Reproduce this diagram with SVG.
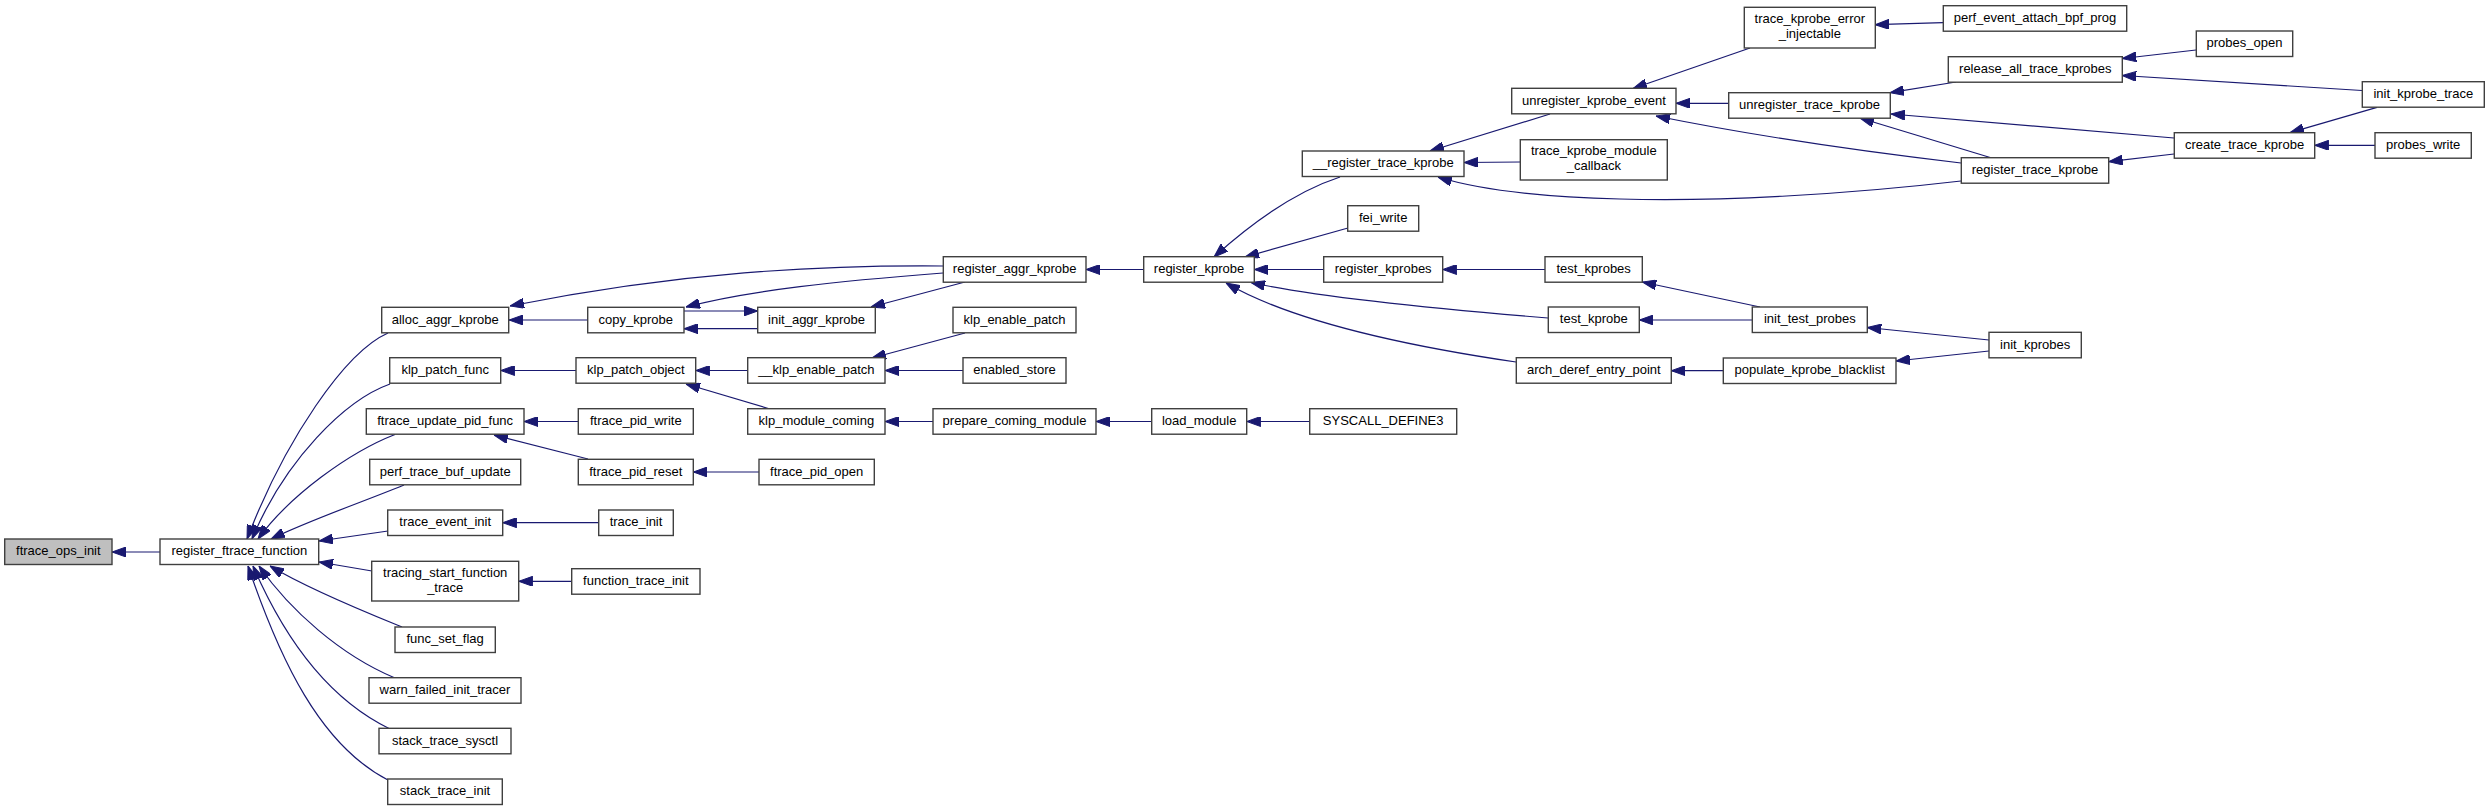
<svg xmlns="http://www.w3.org/2000/svg" width="2489" height="811" viewBox="0 0 2489 811">
<style>
.n rect{fill:#ffffff;stroke:#404040;stroke-width:1.4}
.n.root rect{fill:#bfbfbf}
.n text{font-family:"Liberation Sans",Arial,Helvetica,sans-serif;font-size:13px;fill:#000000;text-anchor:middle}
#edges path{fill:none;stroke:#191970;stroke-width:1.2;marker-end:url(#ah)}
</style>
<defs>
<marker id="ah" markerUnits="userSpaceOnUse" viewBox="0 0 14 10" refX="14" refY="5" markerWidth="14" markerHeight="10" orient="auto">
<path d="M0,0 L14,5 L0,10 z" fill="#191970" stroke="#191970" stroke-width="1"/>
</marker>
</defs>
<rect x="0" y="0" width="2489" height="811" fill="#ffffff"/>
<g id="edges">
<path d="M160,552 L112,552"/>
<path d="M388,333 C345,352 285,440 247,539"/>
<path d="M390,384 C345,400 285,460 252,539"/>
<path d="M395,434.5 C350,452 290,495 258,539"/>
<path d="M404,485 C360,503 310,520 271,539"/>
<path d="M388,531 L319,541"/>
<path d="M372,571 L319,562"/>
<path d="M402,627 C370,614 310,590 270,566"/>
<path d="M395,678 C340,655 290,610 259,566"/>
<path d="M390,729 C330,700 285,640 253,566"/>
<path d="M388,780 C320,745 280,660 248,566"/>
<path d="M588,320 L509,320"/>
<path d="M943,266 C820,265 680,272 510,306"/>
<path d="M943,273 C840,281 750,290 686,307"/>
<path d="M684,311 L757.7,311"/>
<path d="M757.7,328.7 L684,328.7"/>
<path d="M965,282 L871,307"/>
<path d="M1143.7,269.5 L1086,269.5"/>
<path d="M576,370.5 L500.7,370.5"/>
<path d="M747.7,370.5 L695.7,370.5"/>
<path d="M770,409 L686,384"/>
<path d="M965,333 L872,358"/>
<path d="M963,370.5 L885,370.5"/>
<path d="M933,421.5 L885,421.5"/>
<path d="M1151.7,421.5 L1096,421.5"/>
<path d="M1309.7,421.5 L1246.7,421.5"/>
<path d="M578.3,421.5 L524,421.5"/>
<path d="M588,459 L494,435"/>
<path d="M759,472 L693.3,472"/>
<path d="M598.7,522.7 L502.7,522.7"/>
<path d="M571.7,581.3 L518.7,581.3"/>
<path d="M1340,177 C1300,190 1255,220 1214,257"/>
<path d="M1348,228 L1245,257"/>
<path d="M1323.7,269.5 L1254.3,269.5"/>
<path d="M1548,318 C1450,310 1320,298 1251,282.5"/>
<path d="M1516,362 C1400,345 1290,320 1226,283"/>
<path d="M1545,269.5 L1442.7,269.5"/>
<path d="M1550,114 L1430,151"/>
<path d="M1520.3,162 L1464,162.5"/>
<path d="M1961,181 C1850,194 1720,202 1620,199 C1540,197 1480,190 1438,177"/>
<path d="M1750,48 L1633,88.5"/>
<path d="M1728.7,103.3 L1676,103.3"/>
<path d="M1961,163 C1850,150 1740,133 1656,116"/>
<path d="M1943,22.7 L1875.3,24.7"/>
<path d="M1956,82 L1890,92.7"/>
<path d="M1991,157.7 L1860,118"/>
<path d="M2174,138 L1891,114"/>
<path d="M2174,154 L2108.7,161.7"/>
<path d="M2196,50 L2122.3,58.5"/>
<path d="M2362,90.5 L2122.3,75.5"/>
<path d="M2377,107.3 L2290,132.7"/>
<path d="M2375,145.3 L2314.7,145.3"/>
<path d="M1760,307 L1642.3,282"/>
<path d="M1752.3,320 L1639.3,320"/>
<path d="M1989,340 L1867.3,327.5"/>
<path d="M1989,351 L1896,361"/>
<path d="M1723.3,370.7 L1671.3,370.7"/>
</g>
<g id="ftrace_ops_init" class="n root"><rect x="4.7" y="539" width="107.3" height="25.5"/><text x="58.35" y="555.25">ftrace_ops_init</text></g>
<g id="register_ftrace_function" class="n"><rect x="160" y="539" width="158.7" height="25.5"/><text x="239.35" y="555.25">register_ftrace_function</text></g>
<g id="alloc_aggr_kprobe" class="n"><rect x="381.7" y="307.3" width="127" height="25.5"/><text x="445.2" y="323.5">alloc_aggr_kprobe</text></g>
<g id="klp_patch_func" class="n"><rect x="389.7" y="357.7" width="111" height="25.5"/><text x="445.2" y="374">klp_patch_func</text></g>
<g id="ftrace_update_pid_func" class="n"><rect x="366.3" y="408.7" width="157.7" height="25.5"/><text x="445.15" y="425">ftrace_update_pid_func</text></g>
<g id="perf_trace_buf_update" class="n"><rect x="369.7" y="459.3" width="151" height="25.5"/><text x="445.2" y="475.5">perf_trace_buf_update</text></g>
<g id="trace_event_init" class="n"><rect x="387.7" y="510" width="115" height="25.5"/><text x="445.2" y="526.25">trace_event_init</text></g>
<g id="tracing_start_function_trace" class="n"><rect x="371.7" y="561.3" width="147" height="39.7"/><text x="445.2" y="576.6">tracing_start_function</text><text x="445.2" y="591.6">_trace</text></g>
<g id="func_set_flag" class="n"><rect x="395" y="627" width="100.3" height="25.5"/><text x="445.15" y="643.25">func_set_flag</text></g>
<g id="warn_failed_init_tracer" class="n"><rect x="369" y="677.7" width="152" height="25.5"/><text x="445" y="694">warn_failed_init_tracer</text></g>
<g id="stack_trace_sysctl" class="n"><rect x="379" y="728.3" width="132" height="25.5"/><text x="445" y="744.5">stack_trace_sysctl</text></g>
<g id="stack_trace_init" class="n"><rect x="387.7" y="779" width="114.6" height="25.5"/><text x="445" y="795.25">stack_trace_init</text></g>
<g id="copy_kprobe" class="n"><rect x="587.7" y="307.3" width="96.3" height="25.5"/><text x="635.85" y="323.5">copy_kprobe</text></g>
<g id="klp_patch_object" class="n"><rect x="576" y="357.7" width="119.7" height="25.5"/><text x="635.85" y="374">klp_patch_object</text></g>
<g id="ftrace_pid_write" class="n"><rect x="578.3" y="408.7" width="115" height="25.5"/><text x="635.8" y="425">ftrace_pid_write</text></g>
<g id="ftrace_pid_reset" class="n"><rect x="578.3" y="459.3" width="115" height="25.5"/><text x="635.8" y="475.5">ftrace_pid_reset</text></g>
<g id="trace_init" class="n"><rect x="598.7" y="510" width="74.6" height="25.5"/><text x="636" y="526.25">trace_init</text></g>
<g id="function_trace_init" class="n"><rect x="571.7" y="568.7" width="128.3" height="25.5"/><text x="635.85" y="585">function_trace_init</text></g>
<g id="init_aggr_kprobe" class="n"><rect x="757.7" y="307.3" width="117.6" height="25.5"/><text x="816.5" y="323.5">init_aggr_kprobe</text></g>
<g id="__klp_enable_patch" class="n"><rect x="747.7" y="357.7" width="137.3" height="25.5"/><text x="816.35" y="374">__klp_enable_patch</text></g>
<g id="klp_module_coming" class="n"><rect x="747.7" y="408.7" width="137.3" height="25.5"/><text x="816.35" y="425">klp_module_coming</text></g>
<g id="ftrace_pid_open" class="n"><rect x="759" y="459.3" width="115.3" height="25.5"/><text x="816.65" y="475.5">ftrace_pid_open</text></g>
<g id="register_aggr_kprobe" class="n"><rect x="943.3" y="256.7" width="142.7" height="25.5"/><text x="1014.65" y="273">register_aggr_kprobe</text></g>
<g id="klp_enable_patch" class="n"><rect x="953" y="307.3" width="123" height="25.5"/><text x="1014.5" y="323.5">klp_enable_patch</text></g>
<g id="enabled_store" class="n"><rect x="963" y="357.7" width="103" height="25.5"/><text x="1014.5" y="374">enabled_store</text></g>
<g id="prepare_coming_module" class="n"><rect x="933" y="408.7" width="163" height="25.5"/><text x="1014.5" y="425">prepare_coming_module</text></g>
<g id="register_kprobe" class="n"><rect x="1143.7" y="256.7" width="110.6" height="25.5"/><text x="1199" y="273">register_kprobe</text></g>
<g id="load_module" class="n"><rect x="1151.7" y="408.7" width="95" height="25.5"/><text x="1199.2" y="425">load_module</text></g>
<g id="__register_trace_kprobe" class="n"><rect x="1302.3" y="151" width="161.7" height="25.5"/><text x="1383.15" y="167.25">__register_trace_kprobe</text></g>
<g id="fei_write" class="n"><rect x="1347.7" y="205.7" width="71" height="25.5"/><text x="1383.2" y="222">fei_write</text></g>
<g id="register_kprobes" class="n"><rect x="1323.7" y="256.7" width="119" height="25.5"/><text x="1383.2" y="273">register_kprobes</text></g>
<g id="SYSCALL_DEFINE3" class="n"><rect x="1309.7" y="408.7" width="147" height="25.5"/><text x="1383.2" y="425">SYSCALL_DEFINE3</text></g>
<g id="unregister_kprobe_event" class="n"><rect x="1511.7" y="88.3" width="164.3" height="25.5"/><text x="1593.85" y="104.55">unregister_kprobe_event</text></g>
<g id="trace_kprobe_module_callback" class="n"><rect x="1520.3" y="139.7" width="147" height="40.3"/><text x="1593.8" y="155.35">trace_kprobe_module</text><text x="1593.8" y="170.35">_callback</text></g>
<g id="test_kprobes" class="n"><rect x="1545" y="256.7" width="97.3" height="25.5"/><text x="1593.65" y="273">test_kprobes</text></g>
<g id="test_kprobe" class="n"><rect x="1548.3" y="307" width="91" height="25.5"/><text x="1593.8" y="323.25">test_kprobe</text></g>
<g id="arch_deref_entry_point" class="n"><rect x="1516.3" y="357.7" width="155" height="25.5"/><text x="1593.8" y="374">arch_deref_entry_point</text></g>
<g id="trace_kprobe_error_injectable" class="n"><rect x="1744.3" y="7.3" width="131" height="40.7"/><text x="1809.8" y="23.15">trace_kprobe_error</text><text x="1809.8" y="38.15">_injectable</text></g>
<g id="unregister_trace_kprobe" class="n"><rect x="1728.7" y="92.7" width="161.6" height="25.5"/><text x="1809.5" y="109">unregister_trace_kprobe</text></g>
<g id="init_test_probes" class="n"><rect x="1752.3" y="307" width="115" height="25.5"/><text x="1809.8" y="323.25">init_test_probes</text></g>
<g id="populate_kprobe_blacklist" class="n"><rect x="1723.3" y="358" width="172.7" height="25.5"/><text x="1809.65" y="374.25">populate_kprobe_blacklist</text></g>
<g id="perf_event_attach_bpf_prog" class="n"><rect x="1943.3" y="5.7" width="183.4" height="25.5"/><text x="2035" y="22">perf_event_attach_bpf_prog</text></g>
<g id="release_all_trace_kprobes" class="n"><rect x="1948.3" y="56.7" width="174" height="25.5"/><text x="2035.3" y="73">release_all_trace_kprobes</text></g>
<g id="register_trace_kprobe" class="n"><rect x="1961.3" y="157.7" width="147.4" height="25.5"/><text x="2035" y="174">register_trace_kprobe</text></g>
<g id="init_kprobes" class="n"><rect x="1989" y="332.3" width="92.3" height="25.5"/><text x="2035.15" y="348.55">init_kprobes</text></g>
<g id="probes_open" class="n"><rect x="2196.3" y="31" width="96.4" height="25.5"/><text x="2244.5" y="47.25">probes_open</text></g>
<g id="create_trace_kprobe" class="n"><rect x="2174.3" y="132.7" width="140.4" height="25.5"/><text x="2244.5" y="149">create_trace_kprobe</text></g>
<g id="init_kprobe_trace" class="n"><rect x="2362.3" y="81.7" width="122" height="25.5"/><text x="2423.3" y="98">init_kprobe_trace</text></g>
<g id="probes_write" class="n"><rect x="2375" y="132.7" width="96.3" height="25.5"/><text x="2423.15" y="149">probes_write</text></g>
</svg>
